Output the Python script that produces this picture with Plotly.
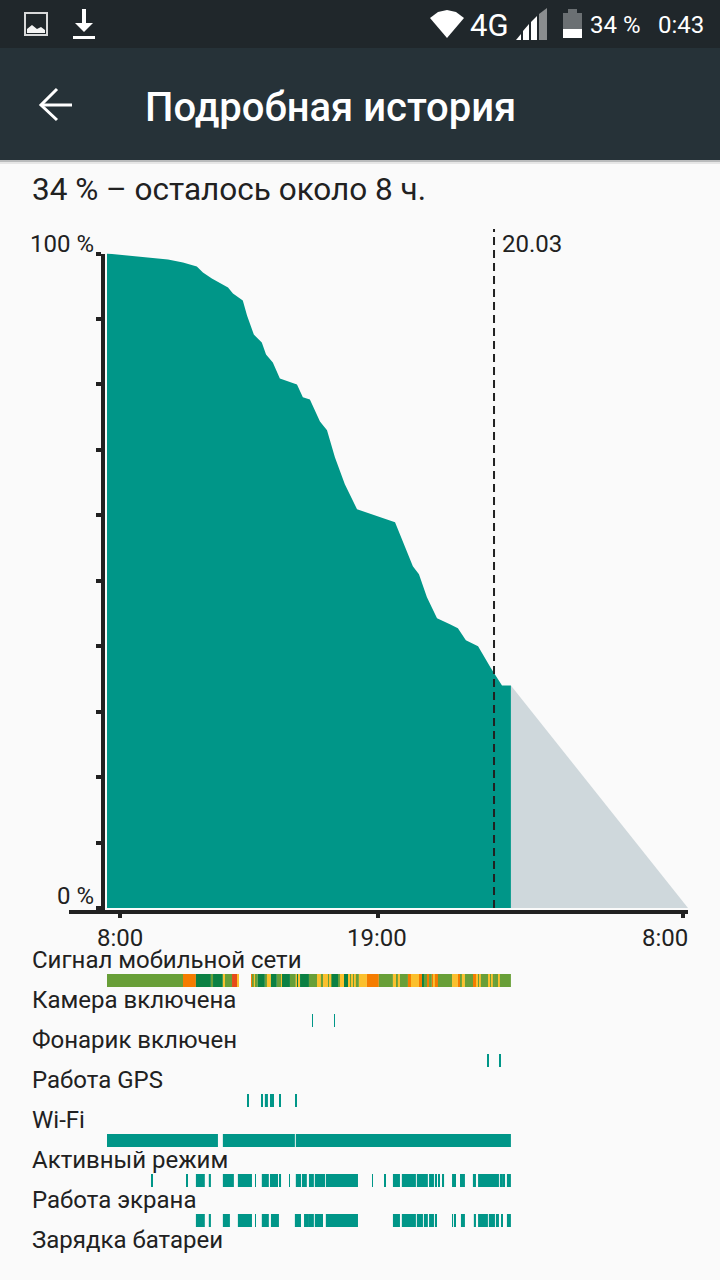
#!/usr/bin/python3

import plotly.graph_objects as go

# All times are hours after the first 8:00 tick, battery values are percent
curve_hours = [-0.55, 2.05, 2.69, 3.28, 3.54, 3.92, 4.61, 4.82, 5.24, 5.42, 5.71, 6.05, 6.23, 6.52, 6.82,
               7.55, 7.80, 8.10, 8.53, 8.83, 9.17, 9.59, 10.11, 11.73, 12.49, 12.75, 13.09, 13.52, 14.07,
               14.41, 14.75, 15.27, 15.82, 16.29, 16.67]
curve_level = [100, 99.08, 98.63, 98.02, 97.10, 96.18, 94.81, 93.89, 92.82, 90.53, 87.63, 86.41, 84.58, 83.36, 80.92,
               80.0, 78.02, 77.71, 74.35, 72.98, 68.85, 64.73, 60.92, 58.93, 52.21, 50.99, 47.48, 44.27, 43.36,
               42.75, 40.92, 40.0, 36.64, 34, 34]
forecast_hours = [16.67, 24.22]
forecast_level = [34, 0]
marker_hour = 15.95
marker_label = "20.03"

x_ticks = [0, 11, 24]
x_labels = ["8:00", "19:00", "8:00"]
y_ticks = [0, 10, 20, 30, 40, 50, 60, 70, 80, 90, 100]

# Signal strength: each level runs from its edge to the next one, None = no data
signal_edges = [-0.55, 2.69, 3.24, 3.88, 3.97, 4.39, 4.48, 4.78, 5.03, 5.07,
                5.63, 5.67, 5.71, 5.80, 5.88, 6.18, 6.27, 6.44, 6.69, 6.87,
                6.91, 7.25, 7.50, 7.59, 7.63, 7.68, 8.06, 8.44, 8.49, 8.53,
                8.57, 8.66, 8.83, 8.87, 8.91, 8.95, 9.00, 9.04, 9.30, 9.38,
                9.59, 9.64, 9.68, 9.76, 9.81, 9.89, 9.94, 10.02, 10.06, 10.19,
                10.53, 11.04, 11.64, 11.81, 11.85, 11.94, 12.28, 12.41, 12.75, 12.88,
                12.92, 12.96, 13.13, 13.18, 13.30, 13.39, 13.43, 13.52, 13.56, 14.16,
                14.41, 14.54, 14.58, 14.71, 15.09, 15.14, 15.18, 15.22, 15.27, 15.35,
                15.39, 15.73, 15.78, 15.82, 15.86, 15.90, 15.99, 16.16, 16.20, 16.67]
signal_levels = [3, 1, 4, 3, 4, 2, 3, 0, 2, None,
                 1, 3, 2, 3, 4, 3, 2, 4, 3, 2,
                 4, 3, 2, 4, 2, 4, 3, 2, 3, 2,
                 3, 2, 3, 2, 3, 2, 3, 4, 3, 2,
                 4, 3, 4, 2, 3, 2, 3, 2, 3, 2,
                 1, 3, 2, 3, 2, 3, 1, 2, 1, 0,
                 4, 3, 1, 3, 1, 2, 1, 1, 3, 2,
                 1, 3, 2, 3, 1, 3, 1, 2, 3, 2,
                 3, 2, 3, 3, 2, 3, 3, 2, 3]

camera_starts = [8.19, 9.13]
camera_ends = [8.23, 9.17]
flash_starts = [15.69, 16.20]
flash_ends = [15.73, 16.24]
gps_starts = [5.46, 6.05, 6.18, 6.44, 6.52, 6.82, 7.50]
gps_ends = [5.50, 6.09, 6.31, 6.48, 6.56, 6.86, 7.54]
wifi_starts = [-0.55, 4.39, 7.50]
wifi_ends = [4.18, 7.46, 16.67]
active_starts = [1.36, 2.86, 3.24, 3.79, 4.39, 5.03, 5.76, 6.05, 6.40, 6.82, 7.21, 7.50, 7.76, 7.89, 8.06,
                 8.31, 8.70, 8.78, 10.75, 11.30, 11.64, 12.02, 12.66, 13.18, 13.43, 13.60, 13.77, 14.16, 14.50,
                 15.05, 15.27, 16.20, 16.37, 16.50]
active_ends = [1.41, 2.90, 3.62, 3.88, 4.86, 5.63, 5.80, 6.35, 6.74, 6.87, 7.25, 7.72, 7.85, 7.97, 8.27,
               8.66, 8.74, 10.15, 10.79, 11.34, 11.94, 12.62, 13.13, 13.39, 13.52, 13.64, 13.82, 14.33, 14.71,
               15.18, 16.16, 16.33, 16.42, 16.67]
screen_starts = [3.24, 3.79, 4.39, 5.03, 5.76, 6.05, 6.44, 7.46, 7.85, 8.06, 8.31, 8.78, 11.64, 12.02, 12.66,
                 12.96, 13.18, 13.43, 14.16, 14.24, 14.54, 15.09, 15.27, 15.73, 16.03, 16.25, 16.50]
screen_ends = [3.62, 3.88, 4.69, 5.63, 5.80, 6.35, 6.78, 7.72, 8.06, 8.27, 8.66, 10.15, 11.94, 12.62, 12.92,
               13.13, 13.39, 13.52, 14.20, 14.33, 14.71, 15.18, 15.69, 15.99, 16.16, 16.33, 16.67]

row_names = ["signal", "camera", "flash", "gps", "wifi", "active", "screen", "charging"]
row_titles = ["Сигнал мобильной сети", "Камера включена", "Фонарик включен", "Работа GPS", "Wi-Fi",
              "Активный режим", "Работа экрана", "Зарядка батареи"]

TEAL = "#009688"
GREY = "#cfd8dc"
DARK = "#212121"
level_colors = {0: "#e64a19", 1: "#f57c00", 2: "#fbc02d", 3: "#689f38", 4: "#0b8043"}


def px(x):
   return x / 720


def py(y):
   return 1 - y / 1280


def label(text, x, y, size, color=DARK, anchor="left", weight=400):
   return dict(text=text, x=px(x), y=py(y), xref="paper", yref="paper", showarrow=False, xanchor=anchor,
               yanchor="middle", borderpad=0, borderwidth=0,
               font=dict(family="Roboto", size=size, color=color, weight=weight))


def rect(x0, y0, x1, y1, color):
   return dict(type="rect", xref="paper", yref="paper", x0=px(x0), x1=px(x1), y0=py(y0), y1=py(y1),
               fillcolor=color, line_width=0)


def poly(points, color=None, line=None, width=0):
   path = "M " + " L ".join(f"{px(x):.5f},{py(y):.5f}" for x, y in points)
   if color:
      path += " Z"
   return dict(type="path", xref="paper", yref="paper", path=path, fillcolor=color,
               line=dict(color=line, width=width))


def row_bar(row, starts, ends):
   widths = [e - s for s, e in zip(starts, ends)]
   return go.Bar(y=[row] * len(starts), x=widths, base=starts, orientation="h", width=0.325, xaxis="x2", yaxis="y2",
                 marker=dict(color=TEAL, line_width=0), hoverinfo="skip", showlegend=False)


if __name__ == "__main__":
   fig = go.Figure()

   # Battery curve and forecast
   fig.add_trace(go.Scatter(x=forecast_hours, y=forecast_level, fill="tozeroy", fillcolor=GREY, mode="lines",
                            line_width=0, showlegend=False))
   fig.add_trace(go.Scatter(x=curve_hours, y=curve_level, fill="tozeroy", fillcolor=TEAL, mode="lines",
                            line_width=0, showlegend=False))

   # Timeline rows
   signal_starts = [s for s, l in zip(signal_edges, signal_levels) if l is not None]
   signal_ends = [e for e, l in zip(signal_edges[1:], signal_levels) if l is not None]
   signal_colors = [level_colors[l] for l in signal_levels if l is not None]
   signal_bar = row_bar("signal", signal_starts, signal_ends)
   signal_bar.marker.color = signal_colors
   fig.add_trace(signal_bar)
   fig.add_trace(row_bar("camera", camera_starts, camera_ends))
   fig.add_trace(row_bar("flash", flash_starts, flash_ends))
   fig.add_trace(row_bar("gps", gps_starts, gps_ends))
   fig.add_trace(row_bar("wifi", wifi_starts, wifi_ends))
   fig.add_trace(row_bar("active", active_starts, active_ends))
   fig.add_trace(row_bar("screen", screen_starts, screen_ends))

   # Screen furniture
   shapes = [
      rect(0, 0, 720, 48, "#20272b"),
      rect(0, 48, 720, 160, "#263238"),
      rect(0, 160, 720, 162, "#b9bbbc"),
      rect(0, 162, 720, 164, "#e6e6e6"),
      # gallery icon
      dict(type="rect", xref="paper", yref="paper", x0=px(25), x1=px(47), y0=py(13), y1=py(35),
           line=dict(color="#d8d9da", width=2), fillcolor="rgba(0,0,0,0)"),
      poly([(27, 33), (27, 29), (32, 25), (37, 29), (41, 27), (45, 30), (45, 33)], "#f4f4f4"),
      # download icon
      rect(82, 9, 86, 24, "white"),
      poly([(75, 23), (93, 23), (84, 32)], "white"),
      rect(73, 36, 95, 39, "white"),
      # wifi, signal and battery
      poly([(430, 18), (438, 12), (447, 10), (456, 12), (464, 18), (447, 38)], "white"),
      poly([(516, 40), (521, 34), (521, 40)], "white"),
      poly([(523, 40), (523, 31), (529, 24), (529, 40)], "white"),
      poly([(531, 40), (531, 22), (537, 16), (537, 40)], "white"),
      poly([(539, 40), (539, 14), (547, 8), (547, 40)], "#8a8d8f"),
      rect(563, 13, 582, 29, "#6b7073"),
      rect(568, 9, 577, 13, "#6b7073"),
      rect(563, 29, 582, 38, "white"),
      # back arrow
      poly([(72, 105), (42, 105)], None, "white", 3),
      poly([(57, 89), (41, 105), (57, 120)], None, "white", 3),
      # marker line over the chart
      dict(type="line", xref="x", yref="paper", x0=marker_hour, x1=marker_hour, y0=py(908), y1=py(229),
           line=dict(color=DARK, width=2, dash="8px,5px")),
   ]

   annotations = [
      label("4G", 489, 25, 31, "white", "center"),
      label("34 %", 590, 25, 24, "white"),
      label("0:43", 704, 25, 24, "white", "right"),
      label("Подробная история", 145, 107, 40, "white", weight=500),
      label("34 % – осталось около 8 ч.", 32, 189, 31.5),
      label("100 %", 94, 244, 24, anchor="right"),
      label("0 %", 94, 896, 24, anchor="right"),
      label(marker_label, 502, 244, 24),
      label(x_labels[0], 120, 938, 24, anchor="center"),
      label(x_labels[1], 377, 938, 24, anchor="center"),
      label(x_labels[2], 688, 938, 24, anchor="right"),
   ]
   for i, title in enumerate(row_titles):
      annotations.append(label(title, 32, 960 + i * 40, 24))

   x_range = [-2.17, 24.22]
   x_domain = [px(69), px(688)]

   fig.update_layout(
      width=720, height=1280, autosize=False, margin=dict(l=0, r=0, t=0, b=0),
      paper_bgcolor="#fafafa", plot_bgcolor="rgba(0,0,0,0)", barmode="overlay", showlegend=False,
      shapes=shapes, annotations=annotations,
      xaxis=dict(domain=x_domain, range=x_range, tickvals=x_ticks, showticklabels=False, ticks="outside",
                 ticklen=4, tickwidth=4, tickcolor=DARK, showline=True, linewidth=4, linecolor=DARK,
                 showgrid=False, zeroline=False, anchor="y"),
      yaxis=dict(domain=[py(910), py(253.5)], range=[-0.3, 100], tickvals=y_ticks, showticklabels=False,
                 ticks="outside", ticklen=5, tickwidth=4, tickcolor=DARK, showline=True, linewidth=4,
                 linecolor=DARK, showgrid=False, zeroline=False, anchor="free", position=px(103)),
      xaxis2=dict(domain=x_domain, range=x_range, visible=False, anchor="y2"),
      yaxis2=dict(domain=[py(1276.5), py(960.5)], range=[7.4, -0.5], type="category", categoryorder="array",
                  categoryarray=row_names, visible=False, anchor="x2"),
   )

   fig.write_html("out.html", post_script="document.body.style.margin='0';", config={"displayModeBar": False})
